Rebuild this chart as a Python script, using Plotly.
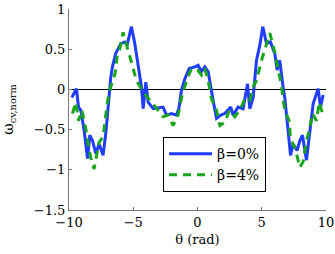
import plotly.graph_objects as go

theta_b0 = [-9.78, -9.42, -9.26, -9.08, -8.82, -8.56, -8.38, -8.17, -7.91, -7.66, -7.35, -7.14,
            -6.93, -6.75, -6.62, -6.36, -5.97, -5.66, -5.48, -5.14, -4.88, -4.62, -4.36, -4.23,
            -4.02, -3.84, -3.45, -2.68, -2.41, -2.02, -1.63, -1.43, -1.25, -0.99, -0.65, -0.21,
            0.05, 0.31, 0.57, 0.83, 1.04, 1.22, 1.48, 1.81, 2.12, 2.59, 2.77, 3.16, 3.55, 3.89,
            4.07, 4.33, 4.59, 4.85, 5.08, 5.37, 5.68, 6.02, 6.20, 6.40, 6.66, 6.79, 7.05, 7.24,
            7.44, 7.75, 7.96, 8.17, 8.48, 8.74, 9.00, 9.39, 9.57, 9.78]
omega_b0 = [-0.10, 0.01, -0.22, -0.26, -0.51, -0.86, -0.57, -0.64, -0.80, -0.68, -0.82, -0.55,
            -0.18, 0.15, 0.28, 0.45, 0.57, 0.59, 0.55, 0.78, 0.57, 0.28, 0.03, -0.24,
            0.09, -0.16, -0.24, -0.22, -0.32, -0.30, -0.32, -0.22, -0.01, 0.13, 0.26, 0.28,
            0.30, 0.22, 0.28, 0.22, 0.01, -0.14, -0.36, -0.32, -0.30, -0.22, -0.32, -0.22, -0.24, 0.07,
            -0.24, -0.10, 0.36, 0.55, 0.78, 0.57, 0.59, 0.44, 0.24, 0.36, 0.03, -0.10, -0.51, -0.82,
            -0.68, -0.76, -0.64, -0.57, -0.88, -0.51, -0.18, 0.01, -0.22, -0.07]

theta_b4 = [-9.73, -9.47, -9.26, -9.00, -8.69, -8.48, -8.23, -8.05, -7.66, -7.35, -7.19, -7.00,
            -6.75, -6.41, -6.23, -6.05, -5.79, -5.48, -5.14, -4.75, -4.23, -3.71, -3.07, -2.68,
            -2.29, -1.90, -1.51, -1.17, -0.86, -0.73, -0.47, 0.00, 0.31, 0.57, 0.83, 1.09, 1.48,
            1.74, 2.12, 2.49, 2.90, 3.29, 3.68, 4.07, 4.33, 4.59, 4.98, 5.24, 5.63, 6.02, 6.28,
            6.55, 6.66, 6.80, 7.13, 7.24, 7.65, 7.96, 8.22, 8.48, 8.69, 8.95, 9.26, 9.47, 9.73]
omega_b4 = [-0.30, -0.16, -0.39, -0.26, -0.49, -0.72, -0.90, -0.99, -0.66, -0.59, -0.39, -0.14,
            0.03, 0.20, 0.44, 0.50, 0.71, 0.53, 0.32, 0.11, -0.03, -0.14, -0.26, -0.34,
            -0.32, -0.45, -0.32, -0.05, 0.11, 0.16, 0.26, 0.24, 0.18, 0.26, 0.11, -0.12, -0.26,
            -0.45, -0.41, -0.26, -0.34, -0.26, -0.12, -0.14, 0.03, 0.11, 0.36, 0.49, 0.70, 0.46, 0.26,
            0.03, -0.13, -0.26, -0.39, -0.61, -0.76, -0.97, -0.90, -0.64, -0.51, -0.30, -0.39, -0.16, -0.30]

x_ticks = [-10, -5, 0, 5, 10]
y_ticks = [-1.5, -1, -0.5, 0, 0.5, 1]
y_ticktext = ["\u22121.5", "\u22121", "\u22120.5", "0", "0.5", "1"]
x_ticktext = ["\u221210", "\u22125", "0", "5", "10"]

serif = "DejaVu Serif"

fig = go.Figure()
fig.add_trace(go.Scatter(x=theta_b0, y=omega_b0, mode="lines", name="\u03b2=0%",
                         line=dict(color="#1f3cff", width=3)))
fig.add_trace(go.Scatter(x=theta_b4, y=omega_b4, mode="lines", name="\u03b2=4%",
                         line=dict(color="#1aa61a", width=3, dash="8px,6px")))

fig.update_layout(
    width=335, height=254,
    margin=dict(l=69, r=9, t=9, b=44, autoexpand=False),
    plot_bgcolor="white", paper_bgcolor="white",
    font=dict(family=serif, size=13, color="black"),
    showlegend=True,
    legend=dict(x=0.366, y=0.363, xanchor="left", yanchor="top",
                bgcolor="white", bordercolor="black", borderwidth=1,
                font=dict(family=serif, size=14), itemwidth=43,
                tracegroupgap=0),
    xaxis=dict(range=[-10, 10], tickvals=x_ticks, ticktext=x_ticktext, automargin=False,
               showgrid=False, zeroline=False, showline=True, linecolor="#777777",
               linewidth=1, ticks="inside", ticklen=3, tickcolor="#777777",
               title=dict(text="\u03b8 (rad)", font=dict(family=serif, size=13), standoff=6)),
    yaxis=dict(range=[-1.5, 1], tickvals=y_ticks, ticktext=y_ticktext, automargin=False,
               showgrid=False, zeroline=True, zerolinecolor="black", zerolinewidth=1,
               showline=True, linecolor="#777777", linewidth=1,
               ticks="inside", ticklen=3, tickcolor="#777777",
               title=dict(text="\u03c9<sub>cv,norm</sub>", font=dict(family=serif, size=14), standoff=16)),
)

fig.write_html("out.html", config={"displayModeBar": False},
               post_script="document.body.style.margin='0';document.body.style.padding='0';")
